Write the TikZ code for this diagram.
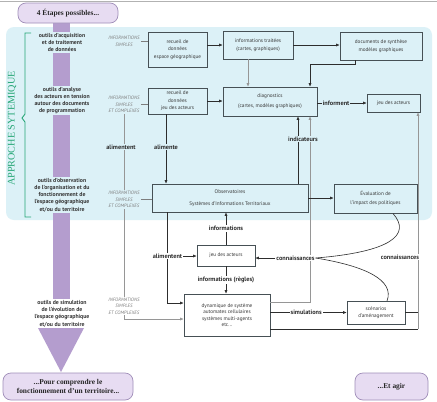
\documentclass[tikz,border=0pt]{standalone}
\usepackage{fontspec}
\setmainfont{Liberation Serif}
\setsansfont{PT Sans}
\usetikzlibrary{arrows.meta}
\definecolor{bgblue}{RGB}{220,241,247}
\definecolor{shaftc}{RGB}{180,157,206}
\definecolor{bubfill}{RGB}{231,220,242}
\definecolor{bubdraw}{RGB}{160,142,185}
\definecolor{greenc}{RGB}{38,166,118}
\definecolor{boxc}{RGB}{70,80,85}
\definecolor{darkl}{RGB}{45,45,45}
\definecolor{lightl}{RGB}{150,150,150}
\definecolor{infoc}{RGB}{125,125,125}
\definecolor{txtc}{RGB}{55,55,55}
\newcommand\bxf{\sffamily\fontsize{5.2}{7.4}\selectfont}
\newcommand\toolf{\sffamily\bfseries\fontsize{5.8}{7.3}\selectfont}
\newcommand\infof{\sffamily\itshape\fontsize{4.8}{6.4}\selectfont}
\newcommand\lblf{\sffamily\bfseries\fontsize{6.3}{7.5}\selectfont}
\newcommand\bubf{\rmfamily\bfseries\fontsize{7.4}{8.8}\selectfont}
\newcommand\apf{\rmfamily\fontsize{10.2}{11}\selectfont}
\tikzset{
  boxs/.style={draw=boxc, line width=0.55pt, align=center, font=\bxf, text=txtc, inner sep=1pt},
  inb/.style={boxs, fill=bgblue},
  outb/.style={boxs, fill=white},
  toolb/.style={align=center, font=\toolf, text=txtc, inner sep=1.2pt},
  infos/.style={align=center, font=\infof, text=infoc, inner sep=1pt},
  lbls/.style={font=\lblf, text=darkl, inner sep=1pt},
  dk/.style={draw=darkl, line width=0.6pt},
  lt/.style={draw=lightl, line width=0.6pt},
  md/.style={draw=infoc, line width=0.5pt},
  arr/.style={-{Latex[length=3.5pt,width=3pt]}},
  bubble/.style={draw=bubdraw, fill=bubfill, line width=0.7pt, rounded corners=8pt, align=center, font=\bubf, text=black!85, inner sep=1pt}
}
\begin{document}
\begin{tikzpicture}[x=1pt,y=-1pt]
\useasboundingbox (0,0) rectangle (437,402);
\fill[white] (0,0) rectangle (437,402);
\draw[gray!60, line width=0.5pt] (0,1) -- (437,1);
% blue background
\fill[bgblue, rounded corners=8pt] (6,27) rectangle (432,220);
% purple shaft
\fill[shaftc] (53,20) rectangle (70,329);
\fill[shaftc] (38,328) -- (84,328) -- (61,372) -- cycle;
% bubbles
\node[bubble, minimum width=100pt, minimum height=20pt] (top) at (68,13) {4 Étapes possibles...};
\node[bubble, minimum width=130pt, minimum height=27pt] (bot) at (68,386.5) {...Pour comprendre le\\fonctionnement d'un territoire...};
\node[bubble, minimum width=73pt, minimum height=27pt] (agir) at (391.5,386.5) {...Et agir};
% bracket
\draw[greenc, line width=0.9pt] (31,33) -- (25,33) -- (25,114) -- (22,118) -- (25,122) -- (25,217) -- (31,217);
\node[rotate=90, text=greenc, font=\apf, inner sep=0pt] (ap) at (12,128.5) {APPROCHE SYTEMIQUE};
% column coordinates
\coordinate (c166) at (166,0);
\coordinate (c248) at (248,0);
\coordinate (c298) at (298,0);
\coordinate (c310) at (310,0);
\coordinate (c355) at (355,0);
\coordinate (p1) at (310,302);
\coordinate (q1) at (124,319);
\coordinate (q2) at (167,303);
\coordinate (q3) at (418,329);
\coordinate (e1) at (393,213.5);
\coordinate (e2) at (387,301);
% boxes
\node[inb, minimum width=59pt, minimum height=35pt] (b1) at (177.5,49.5) {recueil de\\données\\espace géographique};
\node[inb, minimum width=70pt, minimum height=28pt] (b2) at (258,45) {informations traitées\\(cartes, graphiques)};
\node[inb, minimum width=82pt, minimum height=28pt] (b3) at (381,46) {documents de synthèse\\modèles graphiques};
\node[inb, minimum width=59pt, minimum height=26pt] (b4) at (177.5,101) {recueil de\\données\\jeu des acteurs};
\node[inb, minimum width=94pt, minimum height=29pt] (b5) at (270,101.5) {diagnostics\\[3pt](cartes, modèles graphiques)};
\node[inb, minimum width=53pt, minimum height=18pt] (b6) at (393.5,103) {jeu des acteurs};
\node[inb, minimum width=156pt, minimum height=28pt] (b7) at (230,198) {Observatoires\\[4pt]Systèmes d'Informations Territoriaux};
\node[inb, minimum width=83pt, minimum height=29pt] (b8) at (375.5,198.5) {Évaluation de\\[1.5pt]l'impact des politiques};
\node[outb, minimum width=58pt, minimum height=21pt] (b9) at (226,255.5) {jeu des acteurs};
\node[outb, minimum width=86pt, minimum height=42pt] (b10) at (227,315) {dynamique de système\\[-1pt]automates cellulaires\\[-1pt]systèmes multi-agents\\[-1pt]etc...};
\node[outb, minimum width=58pt, minimum height=23pt] (b11) at (376,312.5) {scénarios\\d'aménagement};
% info labels
\node[infos, fill=bgblue] (i1) at (124,41.5) {INFORMATIONS\\SIMPLES};
\node[infos, fill=bgblue] (i2) at (124,104.5) {INFORMATIONS\\SIMPLES\\ET COMPLEXES};
% connectors
\draw[md] (i1.east) -- (i1.east -| b1.west);
\draw[md] (i2.east) -- (i2.east -| b4.west);
\draw[lt, arr] (i2.south) -- (q1) -- (q1 -| b10.west);
\draw[dk, arr] (b1.east |- b2.west) -- (b2.west);
\draw[dk, arr] (b2.east) -- (b3.west |- b2.east);
\draw[dk, arr] (b4.east) -- (b4.east -| b5.west);
\draw[lt, arr] (b2.south -| c248) -- (b5.north -| c248);
\draw[dk, arr] (b3.south -| c355) -- ++(0,4) -| (b5.north -| c310);
\draw[dk, arr] (b5.east |- b6.west) -- node[lbls, fill=bgblue, pos=0.38] (inf) {informent} (b6.west);
\draw[dk, arr] (b7.north -| c298) -- (b5.south -| c298);
\draw[lt, arr] (b10.east |- p1) -- (p1) -- (b5.south -| p1);
\draw[dk, arr] (b4.south -| c166) -- node[lbls, fill=bgblue, pos=0.47] (ali1) {alimente} (b7.north -| c166);
\draw[dk, arr] (b7.east) -- (b7.east -| b8.west);
\draw[dk, arr] (b7.south -| q2) -- (q2) -- (q2 -| b10.west);
\draw[dk, arr] (b9.north) -- node[lbls, fill=white] (infs) {informations} (b9.north |- b7.south);
\draw[dk, arr] (b9.south) -- node[lbls, fill=white] (infr) {informations (règles)} (b9.south |- b10.north);
\draw[dk, arr] (b10.east |- b11.west) -- node[lbls, fill=white, pos=0.47] (sim) {simulations} (b11.west);
\draw[dk] (b11.east) -- (b11.east -| q3);
\draw[dk] (b10.east |- q3) -- (q3);
\draw[lt, arr] (q3) -- (b6.south -| q3);
% labels over lines
\node[infos, fill=bgblue] (i3) at (124,199.5) {INFORMATIONS\\SIMPLES\\ET COMPLEXES};
\draw[md] (i3.east) -- (i3.east -| b7.west);
\node[infos, fill=white] (i4) at (124,306) {INFORMATIONS\\SIMPLES\\ET COMPLEXES};
\node[lbls, fill=bgblue] (ali0) at (121,147) {alimentent};
\node[lbls, fill=bgblue] (ind) at (303,139) {indicateurs};
\node[lbls, fill=white] (ali2) at (167.5,256) {alimentent};
\draw[dk, arr] (ali2.east) -- (ali2.east -| b9.west);
\node[lbls, fill=white] (con1) at (295.5,258) {connaissances};
\draw[dk, arr] (con1.west) -- (con1.west -| b9.east);
\draw[dk] (con1.east) .. controls (390,252) and (412,235) .. (e1);
\draw[dk] (con1.east) .. controls (365,266) and (395,280) .. (e2);
\node[lbls, fill=white] (con2) at (400,257) {connaissances};
% tool labels
\node[toolb, fill=bgblue] (t1) at (62,42.5) {outils d'acquisition\\et de traitement\\de données};
\node[toolb, fill=bgblue] (t2) at (62,100.5) {outils d'analyse\\des acteurs en tension\\autour des documents\\de programmation};
\node[toolb, fill=bgblue] (t3) at (62,195) {outils d'observation\\de l'organisation et du\\fonctionnement de\\l'espace géographique\\et/ou du territoire};
\node[toolb, fill=white] (t4) at (62,313.5) {outils de simulation\\de l'évolution de\\l'espace géographique\\et/ou du territoire};
\end{tikzpicture}
\end{document}
